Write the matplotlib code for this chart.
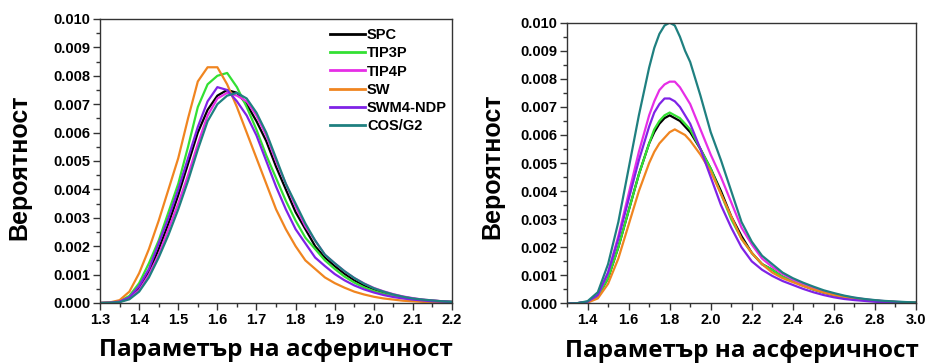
import numpy as np
import matplotlib
matplotlib.use("Agg")
import matplotlib.pyplot as plt
from matplotlib.ticker import MultipleLocator, FormatStrFormatter

# water models, legend order
models = ["SPC", "TIP3P", "TIP4P", "SW", "SWM4-NDP", "COS/G2"]
colors = ["#000000", "#33e033", "#e62ee6", "#f08520", "#7f22e6", "#1f8080"]

# left panel: asphericity distribution, x grid 1.300 ... 2.200 (step 0.025)
x_left = [1.300, 1.325, 1.350, 1.375, 1.400, 1.425, 1.450, 1.475, 1.500, 1.525,
          1.550, 1.575, 1.600, 1.625, 1.650, 1.675, 1.700, 1.725, 1.750, 1.775,
          1.800, 1.825, 1.850, 1.875, 1.900, 1.925, 1.950, 1.975, 2.000, 2.025,
          2.050, 2.075, 2.100, 2.125, 2.150, 2.175, 2.200]

spc_left = [0, 0.00001, 0.00004, 0.00018, 0.0005, 0.0011, 0.0019, 0.0028, 0.0038, 0.0049,
            0.0060, 0.0068, 0.0073, 0.0075, 0.0074, 0.0070, 0.0064, 0.0057, 0.0048, 0.0040,
            0.0032, 0.0026, 0.0020, 0.0016, 0.0013, 0.00103, 0.0008, 0.00062, 0.00048, 0.00037,
            0.00028, 0.00021, 0.00015, 0.00011, 0.00008, 0.00006, 0.00004]
tip3p_left = [0, 0.00001, 0.00006, 0.00025, 0.0007, 0.0014, 0.0022, 0.0032, 0.0042, 0.0055,
              0.0069, 0.0077, 0.0080, 0.0081, 0.0076, 0.0069, 0.0061, 0.0052, 0.0044, 0.0036,
              0.0029, 0.0023, 0.0019, 0.0015, 0.0012, 0.00093, 0.00072, 0.00055, 0.00042, 0.00032,
              0.00024, 0.00018, 0.00013, 0.0001, 0.00007, 0.00005, 0.00004]
tip4p_left = [0, 0.00001, 0.00004, 0.00016, 0.00045, 0.001, 0.0017, 0.0026, 0.0035, 0.0045,
              0.0056, 0.0066, 0.0072, 0.0074, 0.0073, 0.0071, 0.0066, 0.0059, 0.0050, 0.0042,
              0.0034, 0.0027, 0.0022, 0.0017, 0.0014, 0.00112, 0.00088, 0.00069, 0.00053, 0.00041,
              0.00031, 0.00023, 0.00017, 0.00012, 0.00009, 0.00006, 0.00004]
sw_left = [0, 0.00002, 0.0001, 0.0004, 0.00105, 0.0019, 0.0029, 0.0040, 0.0051, 0.0065,
           0.0078, 0.0083, 0.0083, 0.0077, 0.0069, 0.0060, 0.0051, 0.0042, 0.0033, 0.0026,
           0.0020, 0.0015, 0.0012, 0.0009, 0.0007, 0.00054, 0.0004, 0.0003, 0.00022, 0.00016,
           0.00012, 0.00008, 0.00006, 0.00004, 0.00003, 0.00002, 0.00001]
swm4_left = [0, 0.00001, 0.00005, 0.0002, 0.0006, 0.0012, 0.0021, 0.0030, 0.0040, 0.0051,
             0.0062, 0.0071, 0.0076, 0.0075, 0.0071, 0.0066, 0.0059, 0.0050, 0.0041, 0.0033,
             0.0026, 0.0021, 0.0016, 0.0013, 0.00102, 0.0008, 0.00062, 0.00048, 0.00037, 0.00028,
             0.00021, 0.00016, 0.00012, 0.00009, 0.00006, 0.00005, 0.00003]
cos_left = [0, 0.00001, 0.00003, 0.00013, 0.0004, 0.0009, 0.0016, 0.0024, 0.0033, 0.0043,
            0.0054, 0.0064, 0.0070, 0.0073, 0.0074, 0.0072, 0.0067, 0.0060, 0.0051, 0.0042,
            0.0035, 0.0028, 0.0022, 0.0017, 0.0014, 0.00112, 0.00088, 0.00068, 0.00052, 0.0004,
            0.0003, 0.00022, 0.00016, 0.00012, 0.00009, 0.00006, 0.00004]

# right panel: x grid 1.30 ... 3.00, denser around the maximum
x_right = [1.30, 1.35, 1.40, 1.45, 1.50, 1.55, 1.60, 1.65, 1.70, 1.725,
           1.75, 1.775, 1.80, 1.825, 1.85, 1.875, 1.90, 1.95, 2.00, 2.05,
           2.10, 2.15, 2.20, 2.25, 2.30, 2.35, 2.40, 2.45, 2.50, 2.55,
           2.60, 2.65, 2.70, 2.75, 2.80, 2.85, 2.90, 2.95, 3.00]

spc_right = [0, 0.00001, 0.00005, 0.00025, 0.0009, 0.0020, 0.0033, 0.0046, 0.0057, 0.0061,
             0.0064, 0.0066, 0.0067, 0.0066, 0.0065, 0.0063, 0.0061, 0.0055, 0.0048, 0.0040,
             0.0031, 0.0024, 0.0018, 0.0014, 0.0012, 0.00095, 0.0008, 0.00064, 0.0005, 0.00039,
             0.0003, 0.00023, 0.00017, 0.00013, 0.0001, 0.00007, 0.00005, 0.00004, 0.00003]
tip3p_right = [0, 0.00001, 0.00005, 0.00025, 0.0009, 0.0020, 0.0033, 0.0046, 0.0057, 0.0062,
               0.0065, 0.0067, 0.0068, 0.0067, 0.0066, 0.0064, 0.0062, 0.0055, 0.0048, 0.0039,
               0.0030, 0.0023, 0.0018, 0.0014, 0.0012, 0.00095, 0.0008, 0.00064, 0.0005, 0.00039,
               0.0003, 0.00023, 0.00017, 0.00013, 0.0001, 0.00007, 0.00005, 0.00004, 0.00003]
tip4p_right = [0, 0.00001, 0.00006, 0.0003, 0.0011, 0.0024, 0.0039, 0.0054, 0.0067, 0.0072,
               0.0076, 0.0078, 0.0079, 0.0079, 0.0077, 0.0074, 0.0071, 0.0062, 0.0053, 0.0045,
               0.0036, 0.0027, 0.0021, 0.0016, 0.0013, 0.00105, 0.00085, 0.0007, 0.00056, 0.00044,
               0.00034, 0.00026, 0.0002, 0.00015, 0.00011, 0.00008, 0.00006, 0.00004, 0.00003]
sw_right = [0, 0, 0.00003, 0.00018, 0.0007, 0.0016, 0.0028, 0.0040, 0.0050, 0.0054,
            0.0057, 0.0059, 0.0061, 0.0062, 0.0061, 0.0060, 0.0058, 0.0053, 0.0047, 0.0039,
            0.0031, 0.0023, 0.0018, 0.0014, 0.0011, 0.0009, 0.00076, 0.00062, 0.0005, 0.00039,
            0.0003, 0.00023, 0.00017, 0.00013, 0.0001, 0.00007, 0.00005, 0.00004, 0.00003]
swm4_right = [0, 0.00001, 0.00006, 0.0003, 0.0011, 0.0023, 0.0037, 0.0051, 0.0063, 0.0068,
              0.0071, 0.0073, 0.0073, 0.0072, 0.0070, 0.0067, 0.0064, 0.0055, 0.0045, 0.0035,
              0.0027, 0.0020, 0.0015, 0.0012, 0.00098, 0.0008, 0.00066, 0.00052, 0.0004, 0.0003,
              0.00022, 0.00016, 0.00012, 0.00009, 0.00006, 0.00004, 0.00003, 0.00002, 0.00001]
cos_right = [0, 0.00001, 0.00008, 0.0004, 0.0014, 0.0029, 0.0048, 0.0067, 0.0084, 0.0091,
             0.0096, 0.0099, 0.0100, 0.0099, 0.0095, 0.0090, 0.0086, 0.0074, 0.0061, 0.0051,
             0.0040, 0.0029, 0.0022, 0.0017, 0.0014, 0.0011, 0.0009, 0.00074, 0.0006, 0.00047,
             0.00037, 0.00028, 0.00021, 0.00016, 0.00012, 0.00009, 0.00007, 0.00005, 0.00004]

left_series = [spc_left, tip3p_left, tip4p_left, sw_left, swm4_left, cos_left]
right_series = [spc_right, tip3p_right, tip4p_right, sw_right, swm4_right, cos_right]

ylabel = "Вероятност"
xlabel = "Параметър на асферичност"

tick_font = dict(family="Liberation Sans", weight="bold", size=10.5)
spine_col = "#333333"

fig = plt.figure(figsize=(9.28, 3.63), dpi=100)
ax1 = fig.add_axes([0.1078, 0.1653, 0.3793, 0.7824])
ax2 = fig.add_axes([0.6110, 0.1640, 0.3761, 0.7735])


def style_axis(ax, xmin, xmax, xmajor, xminor):
    ax.set_xlim(xmin, xmax)
    ax.set_ylim(0, 0.010)
    ax.xaxis.set_major_locator(MultipleLocator(xmajor))
    ax.xaxis.set_minor_locator(MultipleLocator(xminor))
    ax.yaxis.set_major_locator(MultipleLocator(0.001))
    ax.yaxis.set_minor_locator(MultipleLocator(0.0005))
    ax.xaxis.set_major_formatter(FormatStrFormatter("%.1f"))
    ax.yaxis.set_major_formatter(FormatStrFormatter("%.3f"))
    ax.tick_params(which="both", direction="out", color=spine_col, width=1,
                   top=False, right=False, pad=2)
    ax.tick_params(which="major", length=5)
    ax.tick_params(which="minor", length=3)
    for s in ax.spines.values():
        s.set_color(spine_col)
        s.set_linewidth(1)
    ax.set_ylabel(ylabel, family="Liberation Sans", weight="bold", fontsize=18)
    ax.set_xlabel(xlabel, family="Open Sans", weight="bold", fontsize=17.5)
    ax.xaxis.set_label_coords(0.5, -0.125)


for ys, c, name in zip(left_series, colors, models):
    ax1.plot(x_left, ys, color=c, lw=1.6, label=name)
for ys, c, name in zip(right_series, colors, models):
    ax2.plot(x_right, ys, color=c, lw=1.6, label=name)

style_axis(ax1, 1.3, 2.2, 0.1, 0.05)
style_axis(ax2, 1.3, 3.0, 0.2, 0.1)
ax2.set_xticks([1.4, 1.6, 1.8, 2.0, 2.2, 2.4, 2.6, 2.8, 3.0])
for ax in (ax1, ax2):
    for lab in ax.get_xticklabels() + ax.get_yticklabels():
        lab.set_fontproperties(tick_font)
ax1.yaxis.set_label_coords(-0.194, 0.479)
ax2.yaxis.set_label_coords(-0.180, 0.49)

leg = ax1.legend(loc="upper left", bbox_to_anchor=(0.653, 0.968), frameon=False,
                 prop=dict(family="Liberation Sans", weight="bold", size=10.5),
                 handlelength=2.4, handletextpad=0.15, labelspacing=0.29,
                 borderpad=0, borderaxespad=0)
for ln in leg.get_lines():
    ln.set_linewidth(2)

fig.savefig("out.png", dpi=100)
